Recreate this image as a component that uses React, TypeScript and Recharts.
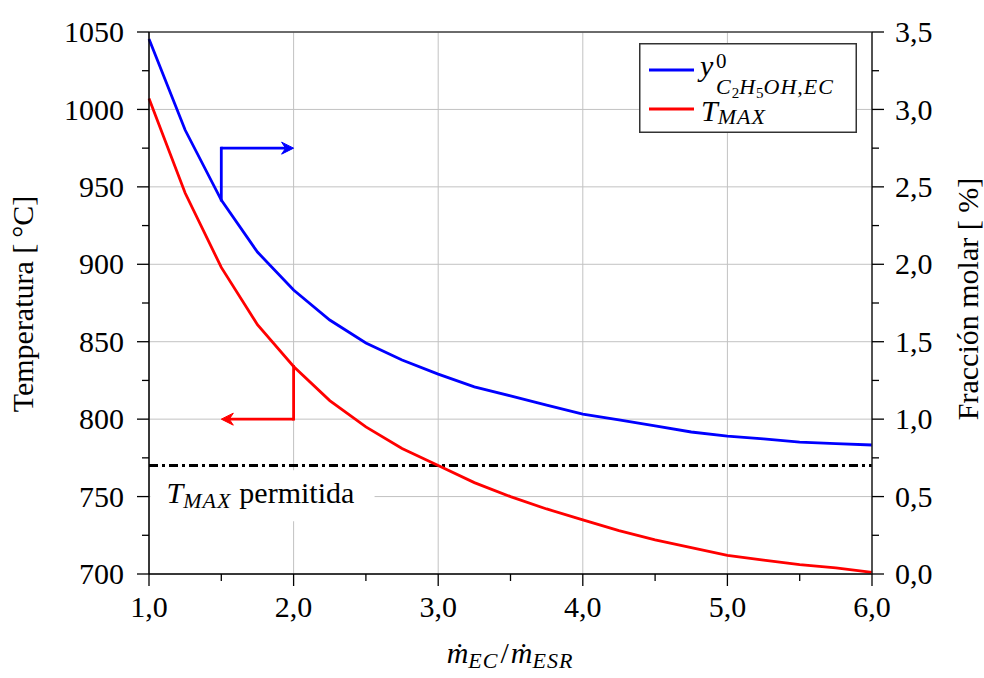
import React from 'react';
import {
  LineChart,
  Line,
  XAxis,
  YAxis,
  CartesianGrid,
  ReferenceLine,
  ReferenceArea,
  Legend,
} from 'recharts';

// mass flow ratio (x) and the two curves
const massRatio = [1, 1.25, 1.5, 1.75, 2, 2.25, 2.5, 2.75, 3, 3.25, 3.5, 3.75, 4, 4.25, 4.5, 4.75, 5, 5.25, 5.5, 5.75, 6];
const tMax = [1007, 946, 898, 861, 834, 812, 795, 781, 770, 759, 750, 742, 735, 728, 722, 717, 712, 709, 706, 704, 701];
const ethanolFraction = [3.455, 2.867, 2.415, 2.079, 1.834, 1.64, 1.492, 1.382, 1.291, 1.208, 1.15, 1.091, 1.033, 0.995, 0.956, 0.917, 0.891, 0.872, 0.852, 0.842, 0.833];

const xTicks = [1, 1.5, 2, 2.5, 3, 3.5, 4, 4.5, 5, 5.5, 6];
const tempTicks = [700, 725, 750, 775, 800, 825, 850, 875, 900, 925, 950, 975, 1000, 1025, 1050];
const fracTicks = [0, 0.25, 0.5, 0.75, 1, 1.25, 1.5, 1.75, 2, 2.25, 2.5, 2.75, 3, 3.25, 3.5];
const xGrid = [1, 2, 3, 4, 5, 6];
const tempGrid = [700, 750, 800, 850, 900, 950, 1000, 1050];

const tempLimit = 770;
const blueArrow = { x: 1.5, from: 2.415, to: 2.75, end: 2 };
const redArrow = { x: 2, from: 834, to: 800, end: 1.5 };

const data = massRatio.map((x, i) => ({ x, temp: tMax[i], frac: ethanolFraction[i] }));

const FONT = "'Liberation Serif', 'Times New Roman', serif";
const LW = 2.8;
const comma = (v: number) => v.toFixed(1).replace('.', ',');

const BottomTick = (props: any) => {
  const { x, y, payload } = props;
  const v = payload.value;
  const major = Number.isInteger(v);
  const axisY = y - 22;
  return (
    <g>
      <line x1={x} x2={x} y1={axisY} y2={axisY + (major ? 12 : 7)} stroke="#000" strokeWidth={1.3} />
      {major && (
        <text x={x} y={y} dy="0.71em" textAnchor="middle" fontFamily={FONT} fontSize={30} fill="#000">
          {comma(v)}
        </text>
      )}
    </g>
  );
};

const LeftTick = (props: any) => {
  const { x, y, payload } = props;
  const v = payload.value;
  const major = v % 50 === 0;
  const axisX = x + 25;
  return (
    <g>
      <line x1={axisX - (major ? 12 : 7)} x2={axisX} y1={y} y2={y} stroke="#000" strokeWidth={1.3} />
      {major && (
        <text x={x} y={y} dy="0.34em" textAnchor="end" fontFamily={FONT} fontSize={30} fill="#000">
          {v}
        </text>
      )}
    </g>
  );
};

const RightTick = (props: any) => {
  const { x, y, payload } = props;
  const v = payload.value;
  const major = Number.isInteger(v * 2);
  const axisX = x - 23;
  return (
    <g>
      <line x1={axisX} x2={axisX + (major ? 12 : 7)} y1={y} y2={y} stroke="#000" strokeWidth={1.3} />
      {major && (
        <text x={x} y={y} dy="0.34em" textAnchor="start" fontFamily={FONT} fontSize={30} fill="#000">
          {comma(v)}
        </text>
      )}
    </g>
  );
};

const plainSeg = (color: string) => (props: any) => {
  const { x1, y1, x2, y2 } = props;
  return <line x1={x1} y1={y1} x2={x2} y2={y2} stroke={color} strokeWidth={LW} strokeLinecap="square" />;
};

const arrowSeg = (color: string) => (props: any) => {
  const { x1, y1, x2, y2 } = props;
  const len = Math.hypot(x2 - x1, y2 - y1) || 1;
  const ux = (x2 - x1) / len;
  const uy = (y2 - y1) / len;
  const px = -uy;
  const py = ux;
  const L = 12;
  const W = 6;
  const N = 8;
  const head = `M${x2},${y2} L${x2 - ux * L + px * W},${y2 - uy * L + py * W} L${x2 - ux * N},${y2 - uy * N} L${x2 - ux * L - px * W},${y2 - uy * L - py * W} Z`;
  return (
    <g>
      <line x1={x1} y1={y1} x2={x2 - ux * N} y2={y2 - uy * N} stroke={color} strokeWidth={LW} />
      <path d={head} fill={color} stroke={color} strokeWidth={1} strokeLinejoin="miter" />
    </g>
  );
};

const LegendBox = () => (
  <svg width={218} height={90} style={{ display: 'block' }}>
    <rect x={0.75} y={0.75} width={216.5} height={88.5} fill="#fff" stroke="#333" strokeWidth={1.5} />
    <line x1={10} x2={55} y1={27} y2={27} stroke="#0000ff" strokeWidth={LW} />
    <text fontFamily={FONT} fontSize={30} fontStyle="italic" fill="#000">
      <tspan x={61} y={33}>y</tspan>
      <tspan x={77} y={25} fontSize={21} fontStyle="normal">0</tspan>
      <tspan x={77} y={51} fontSize={22} letterSpacing={1}>C</tspan>
      <tspan fontSize={15} fontStyle="normal" dy={4}>2</tspan>
      <tspan fontSize={22} dy={-4} letterSpacing={1}>H</tspan>
      <tspan fontSize={15} fontStyle="normal" dy={4}>5</tspan>
      <tspan fontSize={22} dy={-4} letterSpacing={1}>OH,EC</tspan>
    </text>
    <line x1={10} x2={55} y1={66} y2={66} stroke="#ff0000" strokeWidth={LW} />
    <text x={62} y={78} fontFamily={FONT} fontSize={30} fontStyle="italic" fill="#000">
      T<tspan fontSize={22} dy={3} letterSpacing={1}>MAX</tspan>
    </text>
  </svg>
);

const LimitLabel = (props: any) => {
  const vb = props.viewBox || { x: 150, y: 470 };
  return (
    <text x={vb.x + 16} y={vb.y + 33} fontFamily={FONT} fontSize={30} fill="#000">
      <tspan fontStyle="italic">T</tspan>
      <tspan fontStyle="italic" fontSize={22} dy={5} letterSpacing={1}>MAX</tspan>
      <tspan dy={-5} dx={8}>permitida</tspan>
    </text>
  );
};

const XLabel = () => (
  <text x={510} y={663} textAnchor="middle" fontFamily={FONT} fontSize={30} fill="#000">
    <tspan fontStyle="italic">m&#775;</tspan>
    <tspan fontStyle="italic" fontSize={22} dy={5} letterSpacing={1}>EC</tspan>
    <tspan dy={-5} dx={2}>/</tspan>
    <tspan fontStyle="italic" dx={2}>m&#775;</tspan>
    <tspan fontStyle="italic" fontSize={22} dy={5} letterSpacing={1}>ESR</tspan>
  </text>
);

const LeftLabel = () => (
  <text x={33} y={304} transform="rotate(-90 33 304)" textAnchor="middle" fontFamily={FONT} fontSize={30} fill="#000">
    Temperatura [&#8201;°C]
  </text>
);

const RightLabel = () => (
  <text x={978} y={299} transform="rotate(-90 978 299)" textAnchor="middle" fontFamily={FONT} fontSize={30} fill="#000">
    Fracción molar [ %]
  </text>
);

export default function App() {
  return (
    <div style={{ position: 'absolute', left: 0, top: 0, width: 984, height: 678, background: '#fff' }}>
      <LineChart width={984} height={678} data={data} margin={{ top: 32, right: 0, bottom: 0, left: 0 }}>
        <CartesianGrid
          yAxisId="left"
          stroke="#c2c2c2"
          strokeWidth={1}
          horizontalValues={tempGrid}
          verticalValues={xGrid}
        />
        <XAxis
          dataKey="x"
          type="number"
          domain={[1, 6]}
          ticks={xTicks}
          interval={0}
          height={104}
          tickSize={12}
          tickMargin={10}
          tickLine={false}
          tick={<BottomTick />}
          axisLine={{ stroke: '#000', strokeWidth: 1.5 }}
          label={{ content: () => <XLabel /> }}
        />
        <YAxis
          yAxisId="left"
          orientation="left"
          type="number"
          domain={[700, 1050]}
          ticks={tempTicks}
          interval={0}
          width={149}
          tickSize={12}
          tickMargin={13}
          tickLine={false}
          tick={<LeftTick />}
          axisLine={{ stroke: '#000', strokeWidth: 1.5 }}
          label={{ content: () => <LeftLabel /> }}
        />
        <YAxis
          yAxisId="right"
          orientation="right"
          type="number"
          domain={[0, 3.5]}
          ticks={fracTicks}
          interval={0}
          width={112}
          tickSize={12}
          tickMargin={11}
          tickLine={false}
          tick={<RightTick />}
          axisLine={{ stroke: '#222', strokeWidth: 1.5 }}
          label={{ content: () => <RightLabel /> }}
        />
        <ReferenceLine yAxisId="left" y={1050} stroke="#444" strokeWidth={1.5} />
        <ReferenceArea
          yAxisId="left"
          x1={1.01}
          x2={2.56}
          y1={734}
          y2={767}
          fill="#fff"
          fillOpacity={1}
          stroke="none"
          label={{ content: (p: any) => <LimitLabel {...p} /> }}
        />
        <ReferenceLine yAxisId="left" y={tempLimit} stroke="#000" strokeWidth={3} strokeDasharray="9 4 3 4" />
        <Line
          yAxisId="right"
          dataKey="frac"
          type="linear"
          stroke="#0000ff"
          strokeWidth={LW}
          dot={false}
          isAnimationActive={false}
        />
        <Line
          yAxisId="left"
          dataKey="temp"
          type="linear"
          stroke="#ff0000"
          strokeWidth={LW}
          dot={false}
          isAnimationActive={false}
        />
        <ReferenceLine
          yAxisId="right"
          segment={[{ x: blueArrow.x, y: blueArrow.from }, { x: blueArrow.x, y: blueArrow.to }]}
          shape={plainSeg('#0000ff')}
        />
        <ReferenceLine
          yAxisId="right"
          segment={[{ x: blueArrow.x, y: blueArrow.to }, { x: blueArrow.end, y: blueArrow.to }]}
          shape={arrowSeg('#0000ff')}
        />
        <ReferenceLine
          yAxisId="left"
          segment={[{ x: redArrow.x, y: redArrow.from }, { x: redArrow.x, y: redArrow.to }]}
          shape={plainSeg('#ff0000')}
        />
        <ReferenceLine
          yAxisId="left"
          segment={[{ x: redArrow.x, y: redArrow.to }, { x: redArrow.end, y: redArrow.to }]}
          shape={arrowSeg('#ff0000')}
        />
        <Legend
          layout="vertical"
          align="center"
          verticalAlign="middle"
          width={218}
          height={90}
          wrapperStyle={{ top: 43, left: 639, width: 218, height: 90 }}
          content={() => <LegendBox />}
        />
      </LineChart>
    </div>
  );
}
